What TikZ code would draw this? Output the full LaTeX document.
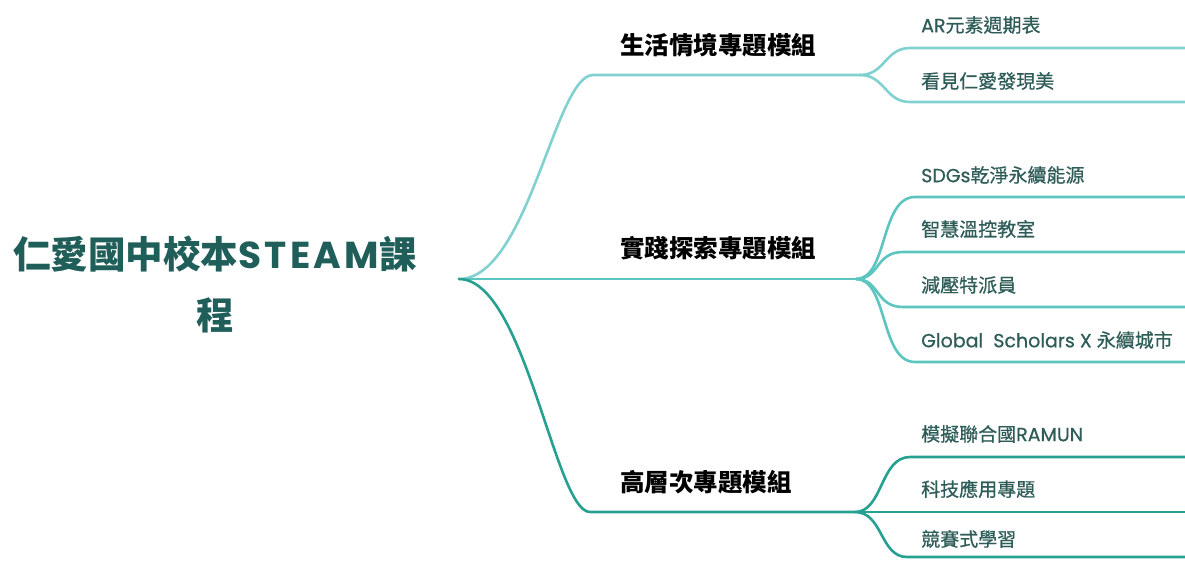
\documentclass[tikz,border=0pt]{standalone}
\usepackage{fontspec}
\setmainfont{Noto Sans CJK TC}
\newfontfamily\lat{Poppins}
\definecolor{roottxt}{HTML}{1F5E59}
\definecolor{leaftxt}{HTML}{2E5C58}
\definecolor{cA}{HTML}{82D1D1}
\definecolor{cB}{HTML}{5CC5C0}
\definecolor{cC}{HTML}{26A091}
\tikzset{
  rootnode/.style={text=roottxt, font=\fontsize{37.5}{61}\selectfont\bfseries, align=center, inner sep=0pt},
  lvone/.style={text=black, font=\fontsize{24.5}{28}\selectfont\bfseries, anchor=west, inner sep=0pt},
  leaf/.style={text=leaftxt, font=\fontsize{19}{23}\selectfont\addfontfeature{FakeBold=0.6}, anchor=west, inner sep=0pt},
  branch/.style={line width=2.6pt, line cap=round},
  linkA/.style={branch, draw=cA},
  linkB/.style={branch, draw=cB},
  linkC/.style={branch, draw=cC}
}
\newcommand{\latb}[1]{{\lat\bfseries\addfontfeature{LetterSpace=9}#1}}
\newcommand{\latl}[1]{{\lat\addfontfeature{FakeBold=0.6}#1}}
\begin{document}
\begin{tikzpicture}[x=1pt,y=-1pt]
\useasboundingbox (0,0) rectangle (1185,566);
\fill[white] (0,0) rectangle (1185,566);

% root
\node[rootnode] (root) at (215,284) {仁愛國中校本\latb{STEAM}課\\程};
\coordinate (R) at (459,279);

% level one
\node[lvone] (m1) at (620,45) {生活情境專題模組};
\node[lvone] (m2) at (620,248) {實踐探索專題模組};
\node[lvone] (m3) at (620,482) {高層次專題模組};

\coordinate (T0) at (593,75);
\coordinate (T) at (860,75);
\coordinate (M) at (856,279);
\coordinate (B0) at (590,512);
\coordinate (B) at (855,512);

% leaves
\node[leaf] (a1) at (921,25) {\latl{AR}元素週期表};
\node[leaf] (a2) at (921,81) {看見仁愛發現美};
\node[leaf] (b1) at (921,175) {\latl{SDGs}乾淨永續能源};
\node[leaf] (b2) at (921,229) {智慧溫控教室};
\node[leaf] (b3) at (921,285) {減壓特派員};
\node[leaf] (b4) at (921,340) {\latl{Global\ \ Scholars X }永續城市};
\node[leaf] (c1) at (921,434) {模擬聯合國\latl{RAMUN}};
\node[leaf] (c2) at (921,489) {科技應用專題};
\node[leaf] (c3) at (921,539) {競賽式學習};

% leaf line coordinates
\coordinate (a1s) at (910,48);  \coordinate (a1e) at (1187,48);
\coordinate (a2s) at (910,102); \coordinate (a2e) at (1187,102);
\coordinate (b1s) at (915,197); \coordinate (b1e) at (1187,197);
\coordinate (b2s) at (903,252); \coordinate (b2e) at (1187,252);
\coordinate (b3s) at (903,307); \coordinate (b3e) at (1187,307);
\coordinate (b4s) at (915,362); \coordinate (b4e) at (1187,362);
\coordinate (c1s) at (910,457); \coordinate (c1e) at (1187,457);
\coordinate (c2e) at (1187,512);
\coordinate (c3s) at (907,557); \coordinate (c3e) at (1187,557);

% main branches
\draw[linkA] (R) .. controls (528,279) and (555,75) .. (T0) -- (T);
\draw[linkB] (R) -- (M);
\draw[linkC] (R) .. controls (525,279) and (555,512) .. (B0) -- (B);

% top group
\draw[linkA] (T) .. controls (885,75) and (885,48) .. (a1s) -- (a1e);
\draw[linkA] (T) .. controls (885,75) and (885,102) .. (a2s) -- (a2e);

% middle group
\draw[linkB] (M) .. controls (888,279) and (880,197) .. (b1s) -- (b1e);
\draw[linkB] (M) .. controls (880,279) and (875,252) .. (b2s) -- (b2e);
\draw[linkB] (M) .. controls (880,279) and (875,307) .. (b3s) -- (b3e);
\draw[linkB] (M) .. controls (888,279) and (880,362) .. (b4s) -- (b4e);

% bottom group
\draw[linkC] (B) .. controls (883,512) and (880,457) .. (c1s) -- (c1e);
\draw[linkC] (B) -- (c2e);
\draw[linkC] (B) .. controls (883,512) and (880,557) .. (c3s) -- (c3e);
\end{tikzpicture}
\end{document}
